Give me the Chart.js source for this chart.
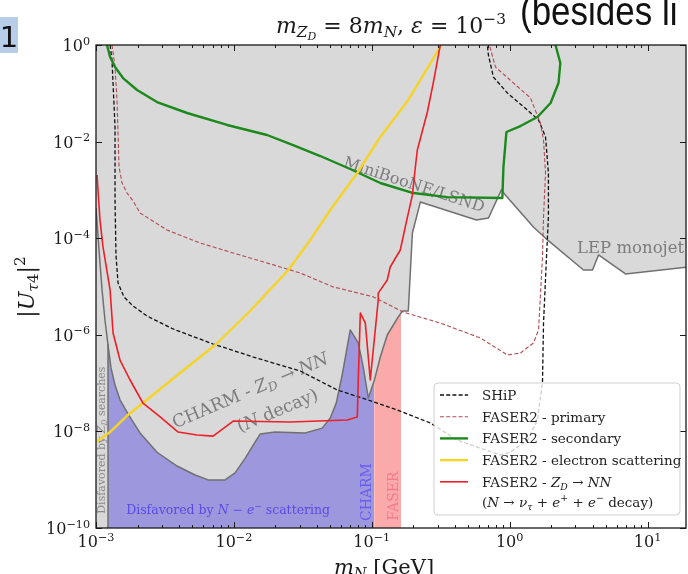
<!DOCTYPE html>
<html>
<head>
<meta charset="utf-8">
<script src="https://cdn.jsdelivr.net/npm/chart.js@4.4.1/dist/chart.umd.min.js"></script>
<style>
  html, body { margin: 0; padding: 0; background: #fff; }
  canvas { display: block; }
</style>
</head>
<body>
<canvas id="chart" width="688" height="574"></canvas>
<script>
// axis limits (m_N in GeV, |U_tau4|^2)
const X_MIN = 1e-3, X_MAX = 19;
const Y_MIN = 1e-10, Y_MAX = 1;

const xTickValues = [1e-3, 1e-2, 1e-1, 1e0, 1e1];
const xTickExps = ['−3', '−2', '−1', '0', '1'];
const yTickValues = [1e0, 1e-2, 1e-4, 1e-6, 1e-8, 1e-10];
const yTickExps = ['0', '−2', '−4', '−6', '−8', '−10'];

// lower edge of the grey excluded region (CHARM, MiniBooNE/LSND, LEP ...)
const excludedX = [1.0e-3, 1.052e-3, 1.106e-3, 1.162e-3, 1.222e-3, 1.285e-3, 1.374e-3, 1.493e-3, 1.706e-3, 2.085e-3,
  2.77e-3, 3.87e-3, 5.23e-3, 6.5e-3, 8.64e-3, 1.02e-2, 1.21e-2, 1.38e-2, 1.55e-2, 1.99e-2,
  3.29e-2, 4.37e-2, 5.0e-2, 5.53e-2, 6.1e-2, 6.98e-2, 7.98e-2, 8.67e-2, 9.44e-2, 0.104,
  0.1153, 0.1295, 0.1556, 0.1665, 0.184, 0.197, 0.225, 0.574, 0.702, 0.871,
  0.917, 1.486, 1.88, 3.43, 3.99, 4.41, 6.92, 19.2];
const excludedY = [4.2e-4, 5.7e-5, 8.5e-6, 2.0e-6, 6.2e-7, 2.06e-7, 9.1e-8, 4.5e-8, 2.3e-8, 9.3e-9,
  3.7e-9, 1.92e-9, 1.25e-9, 9.9e-10, 9.9e-10, 1.38e-9, 2.8e-9, 5.2e-9, 8.8e-9, 9.7e-9,
  9.3e-9, 1.17e-8, 1.89e-8, 3.9e-8, 1.47e-7, 1.26e-6, 6.8e-7, 2.15e-7, 4.9e-8, 1.1e-7,
  3.47e-7, 9.9e-7, 2.34e-6, 3.1e-6, 3.1e-6, 1.28e-4, 5.6e-4, 2.38e-4, 2.62e-4, 1.0e-3,
  8.2e-4, 1.7e-4, 9.2e-5, 2.2e-5, 2.2e-5, 4.5e-5, 1.82e-5, 2.5e-5];

// disfavored by N - e scattering (blue, below the CHARM edge)
const scatterX = [1.222e-3, 1.285e-3, 1.374e-3, 1.493e-3, 1.706e-3, 2.085e-3, 2.77e-3, 3.87e-3, 5.23e-3, 6.5e-3,
  8.64e-3, 1.02e-2, 1.21e-2, 1.38e-2, 1.55e-2, 1.99e-2, 3.29e-2, 4.37e-2, 5.0e-2, 5.53e-2,
  6.1e-2, 6.98e-2, 7.98e-2, 8.67e-2, 9.44e-2, 0.104];
const scatterY = [6.2e-7, 2.06e-7, 9.1e-8, 4.5e-8, 2.3e-8, 9.3e-9, 3.7e-9, 1.92e-9, 1.25e-9, 9.9e-10,
  9.9e-10, 1.38e-9, 2.8e-9, 5.2e-9, 8.8e-9, 9.7e-9, 9.3e-9, 1.17e-8, 1.89e-8, 3.9e-8,
  1.47e-7, 1.26e-6, 6.8e-7, 2.15e-7, 4.9e-8, 1.1e-7];

// FASER band (pink)
const faserBandX = [0.104, 0.1153, 0.1295, 0.1556, 0.163];
const faserBandY = [1.1e-7, 3.47e-7, 9.9e-7, 2.34e-6, 2.9e-6];

// Z_D searches strip at the left
const zdStripX = [1e-3, 1.222e-3];
const zdStripY = [1, 1];
const zdEdgeX = [1.222e-3, 1.222e-3];
const zdEdgeY = [6.2e-7, 1e-10];

// SHiP
const shipX = [1.265e-3, 1.306e-3, 1.374e-3, 1.374e-3, 1.396e-3, 1.445e-3, 1.597e-3, 1.857e-3, 2.345e-3, 3.62e-3,
  7.07e-3, 1.38e-2, 3.03e-2, 5.62e-2, 9.44e-2, 0.153, 0.266, 0.418, 0.857, 1.01,
  1.345, 1.59, 1.73, 1.76, 1.85, 1.91, 1.91, 1.82, 1.62, 1.345,
  0.964, 0.762, 0.701, 0.689];
const shipY = [1, 0.489, 2.0e-2, 6.2e-4, 4.49e-5, 1.18e-5, 6.06e-6, 3.95e-6, 2.45e-6, 1.32e-6,
  6.45e-7, 3.47e-7, 1.78e-7, 7.2e-8, 4.47e-8, 2.77e-8, 1.49e-8, 6.6e-9, 3.24e-9, 3.74e-9,
  6.6e-9, 1.72e-8, 1.05e-7, 1.75e-6, 4.1e-5, 2.75e-4, 2.24e-3, 1.25e-2, 2.8e-2, 4.5e-2,
  0.101, 0.217, 0.621, 1];

// FASER2 - primary
const primaryX = [1.306e-3, 1.374e-3, 1.42e-3, 1.445e-3, 1.469e-3, 1.545e-3, 1.68e-3, 1.857e-3, 2.085e-3, 3.27e-3,
  5.69e-3, 9.88e-3, 1.74e-2, 3.03e-2, 5.26e-2, 0.1026, 0.169, 0.314, 0.613, 0.964,
  1.197, 1.486, 1.62, 1.73, 1.76, 1.82, 1.76, 1.67, 1.416, 1.066,
  0.789, 0.713];
const primaryY = [1, 0.35, 7.3e-2, 1.5e-2, 2.98e-3, 1.39e-3, 8.6e-4, 5.9e-4, 3.33e-4, 1.48e-4,
  7.96e-5, 4.94e-5, 3.07e-5, 1.9e-5, 9.8e-6, 6.1e-6, 2.96e-6, 1.75e-6, 8.6e-7, 3.82e-7,
  4.2e-7, 6.76e-7, 1.26e-6, 4.1e-5, 2.75e-4, 2.24e-3, 1.08e-2, 2.43e-2, 8.0e-2, 0.163,
  0.35, 1];

// FASER2 - secondary
const secondaryX = [1.202e-3, 1.265e-3, 1.374e-3, 1.57e-3, 1.985e-3, 2.77e-3, 4.58e-3, 8.93e-3, 1.74e-2, 2.69e-2,
  4.23e-2, 6.98e-2, 0.1153, 0.2, 0.353, 0.885, 0.901, 0.947, 1.197, 1.59,
  1.98, 2.26, 2.33, 2.15];
const secondaryY = [1, 0.565, 0.35, 0.207, 0.117, 6.6e-2, 3.91e-2, 2.21e-2, 1.37e-2, 8.5e-3,
  5.03e-3, 2.71e-3, 1.39e-3, 8.6e-4, 7.1e-4, 6.8e-4, 2.98e-3, 1.58e-2, 2.1e-2, 3.23e-2,
  6.3e-2, 0.163, 0.424, 1];

// FASER2 - electron scattering
const electronX = [1e-3, 1.264e-3, 1.706e-3, 2.19e-3, 4.07e-3, 7.31e-3, 1.31e-2, 2.48e-2, 3.58e-2, 5.0e-2,
  7.85e-2, 0.1153, 0.184, 0.32];
const electronY = [6.0e-9, 9.7e-9, 2.19e-8, 3.87e-8, 1.62e-7, 6.15e-7, 3.11e-6, 2.2e-5, 9.2e-5, 3.84e-4,
  2.24e-3, 1.25e-2, 7.27e-2, 1];

// FASER2 - Z_D -> NN
const zdnnX = [1.017e-3, 1.069e-3, 1.124e-3, 1.265e-3, 1.33e-3, 1.493e-3, 1.766e-3, 2.19e-3, 2.92e-3, 3.94e-3,
  5.41e-3, 7.07e-3, 9.88e-3, 2.56e-2, 6.64e-2, 7.85e-2, 7.98e-2, 8.26e-2, 8.98e-2, 9.75e-2,
  0.1114, 0.1114, 0.1295, 0.136, 0.161, 0.178, 0.197, 0.207, 0.214, 0.253,
  0.279, 0.314];
const zdnnY = [2.03e-3, 2.38e-4, 6.6e-5, 8.5e-6, 1.09e-6, 3.0e-7, 1.16e-7, 3.87e-8, 1.99e-8, 9.7e-9,
  8.4e-9, 8.0e-9, 1.64e-8, 1.57e-8, 1.72e-8, 1.99e-8, 1.16e-7, 2.83e-6, 1.75e-6, 1.16e-7,
  5.25e-6, 7.3e-6, 1.36e-5, 2.53e-5, 5.7e-5, 2.16e-4, 7.8e-4, 2.98e-3, 6.7e-3, 4.1e-2,
  0.163, 1];

const GREY = '#d9d9d9';
const EDGE = '#707070';
const NONE = 'rgba(0,0,0,0)';
const SERIF = '"DejaVu Serif", "Liberation Serif", serif';

function pts(xs, ys) {
    return xs.map((x, i) => ({ x: x, y: ys[i] }));
}

// rich text: runs are [text, 'i' for italic, level]
function fontFor(run, size) {
    const lvl = run[2] || '';
    const k = (lvl === 'sub' || lvl === 'sup') ? 0.7 : lvl === 'subsub' ? 0.5 : 1;
    return (run[1] === 'i' ? 'italic ' : '') + (size * k).toFixed(1) + 'px ' + SERIF;
}
function shiftFor(run, size) {
    const lvl = run[2] || '';
    if (lvl === 'sub') return 0.2 * size;
    if (lvl === 'subsub') return 0.34 * size;
    if (lvl === 'sup') return -0.4 * size;
    return 0;
}
function richWidth(ctx, runs, size) {
    let w = 0;
    runs.forEach(r => { ctx.font = fontFor(r, size); w += ctx.measureText(r[0]).width; });
    return w;
}
function drawRich(ctx, runs, x, y, size, align) {
    const w = richWidth(ctx, runs, size);
    let cx = align === 'center' ? x - w / 2 : align === 'right' ? x - w : x;
    ctx.textAlign = 'left';
    ctx.textBaseline = 'alphabetic';
    runs.forEach(r => {
        ctx.font = fontFor(r, size);
        ctx.fillText(r[0], cx, y + shiftFor(r, size));
        cx += ctx.measureText(r[0]).width;
    });
}

// names written inside the plot
const regionLabels = [
    { runs: [['MiniBooNE/LSND']], x: 0.2035, y: 1.32e-3, angle: 18, size: 16, color: '#7c7c7c' },
    { runs: [['LEP monojet']], x: 7.53, y: 6.6e-5, angle: 0, size: 16.5, color: '#7c7c7c' },
    { runs: [['CHARM - '], ['Z', 'i'], ['D', 'i', 'sub'], [' → '], ['NN', 'i']], x: 1.31e-2, y: 7.2e-8, angle: -23, size: 17.5, color: '#7c7c7c' },
    { runs: [['('], ['N', 'i'], [' decay)']], x: 2.06e-2, y: 2.77e-8, angle: -23, size: 17.5, color: '#7c7c7c' },
    { runs: [['Disfavored by '], ['N', 'i'], [' − '], ['e', 'i'], ['−', '', 'sup'], [' scattering']], x: 9.08e-3, y: 2.36e-10, angle: 0, size: 12.5, color: '#5b4be4' },
    { runs: [['Disfavored by '], ['Z', 'i'], ['D', 'i', 'sub'], [' searches']], x: 1.087e-3, y: 6.6e-9, angle: -90, size: 11, color: '#8a8a8a' },
    { runs: [['CHARM']], x: 9.12e-2, y: 5.56e-10, angle: -90, size: 14, color: '#6a5cf0' },
    { runs: [['FASER']], x: 0.143, y: 4.6e-10, angle: -90, size: 14, color: '#f27c8c' }
];

const lineBase = { pointRadius: 0, tension: 0, fill: false, borderCapStyle: 'butt', borderJoinStyle: 'round' };

const datasets = [
    Object.assign({}, lineBase, {
        label: 'SHiP', data: pts(shipX, shipY),
        borderColor: '#111111', borderWidth: 1.3, borderDash: [4, 2.2], order: 5,
        legendRuns: [['SHiP']]
    }),
    Object.assign({}, lineBase, {
        label: 'FASER2 - primary', data: pts(primaryX, primaryY),
        borderColor: '#b24a52', borderWidth: 1.1, borderDash: [4, 2.2], order: 4,
        legendRuns: [['FASER2 - primary']]
    }),
    Object.assign({}, lineBase, {
        label: 'FASER2 - secondary', data: pts(secondaryX, secondaryY),
        borderColor: '#1b891b', borderWidth: 2.4, order: 3,
        legendRuns: [['FASER2 - secondary']]
    }),
    Object.assign({}, lineBase, {
        label: 'FASER2 - electron scattering', data: pts(electronX, electronY),
        borderColor: '#f5d327', borderWidth: 2.4, order: 2,
        legendRuns: [['FASER2 - electron scattering']]
    }),
    Object.assign({}, lineBase, {
        label: 'FASER2 - Z_D → NN', data: pts(zdnnX, zdnnY),
        borderColor: '#ee1f26', borderWidth: 1.6, order: 1,
        legendRuns: [['FASER2 - '], ['Z', 'i'], ['D', 'i', 'sub'], [' → '], ['NN', 'i']],
        legendRuns2: [['('], ['N', 'i'], [' → '], ['ν', 'i'], ['τ', 'i', 'sub'], [' + '], ['e', 'i'], ['+', '', 'sup'],
            [' + '], ['e', 'i'], ['−', '', 'sup'], [' decay)']]
    }),
    Object.assign({}, lineBase, {
        label: 'Disfavored by Z_D searches', data: pts(zdStripX, zdStripY),
        fill: 'start', backgroundColor: GREY, borderColor: NONE, borderWidth: 0, order: 20
    }),
    Object.assign({}, lineBase, {
        label: 'Disfavored by N - e scattering', data: pts(scatterX, scatterY),
        fill: 'start', backgroundColor: '#9d98de', borderColor: NONE, borderWidth: 0, order: 19
    }),
    Object.assign({}, lineBase, {
        label: 'FASER', data: pts(faserBandX, faserBandY),
        fill: 'start', backgroundColor: '#fbaaaa', borderColor: NONE, borderWidth: 0, order: 18
    }),
    Object.assign({}, lineBase, {
        label: 'Excluded', data: pts(excludedX, excludedY),
        fill: 'end', backgroundColor: GREY, borderColor: EDGE, borderWidth: 1.5, order: 17
    }),
    Object.assign({}, lineBase, {
        label: 'Z_D searches edge', key: 'lastRegion', data: pts(zdEdgeX, zdEdgeY),
        borderColor: EDGE, borderWidth: 1.5, order: 16
    })
];

function drawRegionLabels(chart) {
    const ctx = chart.ctx, xs = chart.scales.x, ys = chart.scales.y;
    regionLabels.forEach(l => {
        ctx.save();
        ctx.translate(xs.getPixelForValue(l.x), ys.getPixelForValue(l.y));
        ctx.rotate(l.angle * Math.PI / 180);
        ctx.fillStyle = l.color;
        drawRich(ctx, l.runs, 0, l.size * 0.35, l.size, 'center');
        ctx.restore();
    });
}

function drawFrame(chart) {
    const ctx = chart.ctx, a = chart.chartArea, xs = chart.scales.x, ys = chart.scales.y;
    ctx.save();
    ctx.strokeStyle = '#1a1a1a';
    ctx.lineWidth = 1;
    ctx.beginPath();
    // x ticks, major and minor, on bottom and top
    for (let e = -3; e <= 1; e++) {
        for (let k = 1; k <= 9; k++) {
            const v = k * Math.pow(10, e);
            if (v < X_MIN || v > X_MAX) continue;
            const px = Math.round(xs.getPixelForValue(v)) + 0.5;
            const len = k === 1 ? 6 : 3;
            ctx.moveTo(px, a.bottom); ctx.lineTo(px, a.bottom - len);
            ctx.moveTo(px, a.top); ctx.lineTo(px, a.top + len);
        }
    }
    yTickValues.forEach(v => {
        const py = Math.round(ys.getPixelForValue(v)) + 0.5;
        ctx.moveTo(a.left, py); ctx.lineTo(a.left + 6, py);
        ctx.moveTo(a.right, py); ctx.lineTo(a.right - 6, py);
    });
    ctx.stroke();
    ctx.lineWidth = 1.3;
    ctx.strokeRect(a.left, a.top, a.right - a.left, a.bottom - a.top);
    ctx.restore();
}

function drawLegend(chart) {
    const ctx = chart.ctx;
    const items = chart.data.datasets.filter(d => d.legendRuns);
    const bx = 434, by = 383, bw = 246, bh = 132, size = 13.5;
    ctx.save();
    ctx.beginPath();
    ctx.roundRect(bx, by, bw, bh, 4);
    ctx.fillStyle = 'rgba(255,255,255,0.8)';
    ctx.fill();
    ctx.strokeStyle = '#cfcfcf';
    ctx.lineWidth = 1;
    ctx.stroke();
    items.forEach((d, i) => {
        const cy = by + 12 + i * 21.7;
        ctx.beginPath();
        ctx.setLineDash(d.borderDash || []);
        ctx.strokeStyle = d.borderColor;
        ctx.lineWidth = d.borderWidth;
        ctx.moveTo(440, cy);
        ctx.lineTo(468, cy);
        ctx.stroke();
        ctx.setLineDash([]);
        ctx.fillStyle = '#222';
        drawRich(ctx, d.legendRuns, 482, cy + 5, size, 'left');
        if (d.legendRuns2) drawRich(ctx, d.legendRuns2, 482, cy + 25, size, 'left');
    });
    ctx.restore();
}

function drawOuterText(chart) {
    const ctx = chart.ctx, xs = chart.scales.x, ys = chart.scales.y;
    ctx.save();
    ctx.fillStyle = '#1a1a1a';
    xTickValues.forEach((v, i) => {
        drawRich(ctx, [['10'], [xTickExps[i], '', 'sup']], xs.getPixelForValue(v), 547, 16, 'center');
    });
    yTickValues.forEach((v, i) => {
        drawRich(ctx, [['10'], [yTickExps[i], '', 'sup']], 90, ys.getPixelForValue(v) + 6, 16, 'right');
    });
    // axis titles
    drawRich(ctx, [['m', 'i'], ['N', 'i', 'sub'], [' [GeV]']], 384, 574, 21, 'center');
    ctx.save();
    ctx.translate(34, 287);
    ctx.rotate(-Math.PI / 2);
    drawRich(ctx, [['|'], ['U', 'i'], ['τ', 'i', 'sub'], ['4', '', 'sub'], ['|'], ['2', '', 'sup']], 0, 0, 22, 'center');
    ctx.restore();
    // title
    drawRich(ctx, [['m', 'i'], ['Z', 'i', 'sub'], ['D', 'i', 'subsub'], [' = 8'], ['m', 'i'], ['N', 'i', 'sub'],
        [', '], ['ε', 'i'], [' = 10'], ['−3', '', 'sup']], 391, 33, 22, 'center');

    // slide overlay: panel number and cut-off caption
    ctx.fillStyle = '#b7cde8';
    ctx.fillRect(0, 17, 18, 36);
    ctx.fillStyle = '#111';
    ctx.font = '29px "DejaVu Sans", sans-serif';
    ctx.textAlign = 'center';
    ctx.textBaseline = 'alphabetic';
    ctx.fillText('1', 9, 47);
    ctx.save();
    ctx.translate(520, 25);
    ctx.scale(1, 1.15);
    ctx.textAlign = 'left';
    ctx.font = '35px "Liberation Sans", Arial, sans-serif';
    ctx.fillText('(besides li', 0, 0);
    ctx.restore();
    ctx.restore();
}

const decor = {
    id: 'decor',
    afterDatasetDraw(chart, args) {
        if (chart.data.datasets[args.index].key === 'lastRegion') drawRegionLabels(chart);
    },
    afterDatasetsDraw(chart) {
        drawFrame(chart);
        drawLegend(chart);
    },
    afterDraw(chart) {
        drawOuterText(chart);
    }
};

const chart = new Chart(document.getElementById('chart'), {
    type: 'line',
    data: { datasets: datasets },
    options: {
        responsive: false,
        animation: false,
        events: [],
        layout: { padding: { left: 96, top: 45, right: 2, bottom: 46 } },
        plugins: {
            legend: { display: false },
            tooltip: { enabled: false },
            filler: { propagate: false }
        },
        scales: {
            x: { type: 'logarithmic', min: X_MIN, max: X_MAX, display: false },
            y: { type: 'logarithmic', min: Y_MIN, max: Y_MAX, display: false }
        }
    },
    plugins: [decor]
});
</script>
</body>
</html>
